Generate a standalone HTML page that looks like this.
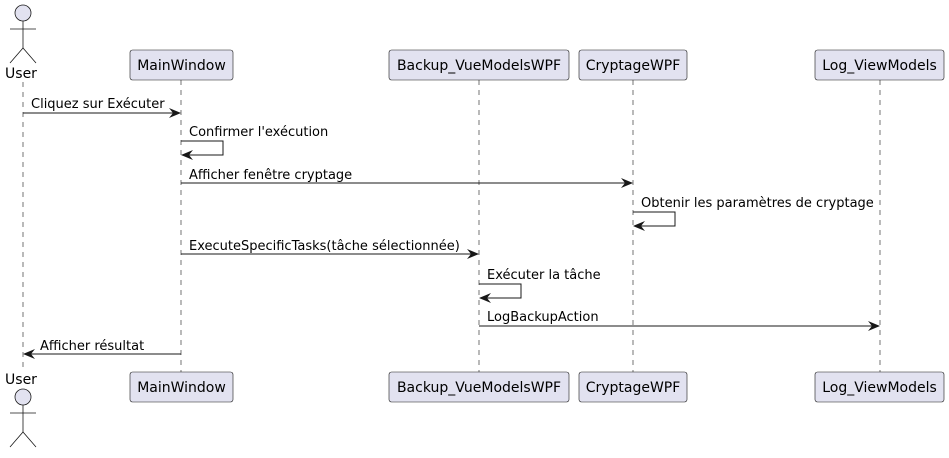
<!DOCTYPE html>
<html><head><meta charset="utf-8"><style>
html,body{margin:0;padding:0;background:#fff;}
svg text{font-family:"DejaVu Sans","Liberation Sans",sans-serif;font-size:13px;fill:#000;}
svg text.p{font-size:14px;}
</style></head><body>
<svg width="949" height="453" viewBox="0 0 949 453" xmlns="http://www.w3.org/2000/svg">
<defs>
<marker id="a" viewBox="0 0 12 10" refX="11" refY="5" markerWidth="12" markerHeight="10" markerUnits="userSpaceOnUse" orient="auto">
<path d="M0,0 L12,5 L0,10 L4,5 Z" fill="#181818"/>
</marker>
</defs>
<g stroke="#181818" stroke-width="0.6" stroke-dasharray="5,5" fill="none">
<line x1="23" y1="82" x2="23" y2="372"/>
<line x1="181" y1="80" x2="181" y2="372"/>
<line x1="479" y1="80" x2="479" y2="372"/>
<line x1="633" y1="80" x2="633" y2="372"/>
<line x1="880" y1="80" x2="880" y2="372"/>
</g>
<g fill="#E2E2F0" stroke="#181818" stroke-width="0.6">
<rect x="130" y="50" width="103" height="30" rx="2.5"/>
<rect x="389" y="50" width="180" height="30" rx="2.5"/>
<rect x="579" y="50" width="108" height="30" rx="2.5"/>
<rect x="815" y="50" width="129" height="30" rx="2.5"/>
<rect x="130" y="372" width="103" height="30" rx="2.5"/>
<rect x="389" y="372" width="180" height="30" rx="2.5"/>
<rect x="579" y="372" width="108" height="30" rx="2.5"/>
<rect x="815" y="372" width="129" height="30" rx="2.5"/>
</g>
<g text-anchor="middle">
<text class="p" x="181.5" y="70">MainWindow</text>
<text class="p" x="479" y="70">Backup_VueModelsWPF</text>
<text class="p" x="633" y="70">CryptageWPF</text>
<text class="p" x="879.5" y="70">Log_ViewModels</text>
<text class="p" x="181.5" y="392">MainWindow</text>
<text class="p" x="479" y="392">Backup_VueModelsWPF</text>
<text class="p" x="633" y="392">CryptageWPF</text>
<text class="p" x="879.5" y="392">Log_ViewModels</text>
<text class="p" x="21" y="78">User</text>
<text class="p" x="21" y="384">User</text>
</g>
<g stroke="#181818" stroke-width="0.8" fill="none">
<circle cx="23" cy="13" r="8" fill="#E2E2F0"/>
<line x1="23" y1="21" x2="23" y2="48"/><line x1="10" y1="29" x2="36" y2="29"/>
<path d="M10,63 L23,48 L36,63"/>
<circle cx="23" cy="397" r="8" fill="#E2E2F0"/>
<line x1="23" y1="405" x2="23" y2="432"/><line x1="10" y1="413" x2="36" y2="413"/>
<path d="M10,447 L23,432 L36,447"/>
</g>
<g stroke="#181818" stroke-width="1" fill="none" marker-end="url(#a)">
<line x1="23" y1="113" x2="180" y2="113"/>
<path d="M181,141 H223 V155 H182"/>
<line x1="181" y1="183" x2="632" y2="183"/>
<path d="M633,212 H675 V226 H634"/>
<line x1="181" y1="254" x2="478" y2="254"/>
<path d="M479,284 H521 V298 H480"/>
<line x1="479" y1="326" x2="879" y2="326"/>
<line x1="181" y1="354" x2="24" y2="354"/>
</g>
<text x="31" y="108">Cliquez sur Exécuter</text>
<text x="189" y="136">Confirmer l'exécution</text>
<text x="189" y="179">Afficher fenêtre cryptage</text>
<text x="641" y="207">Obtenir les paramètres de cryptage</text>
<text x="189" y="250">ExecuteSpecificTasks(tâche sélectionnée)</text>
<text x="487" y="279">Exécuter la tâche</text>
<text x="487" y="321">LogBackupAction</text>
<text x="40" y="350">Afficher résultat</text>
</svg>
</body></html>
